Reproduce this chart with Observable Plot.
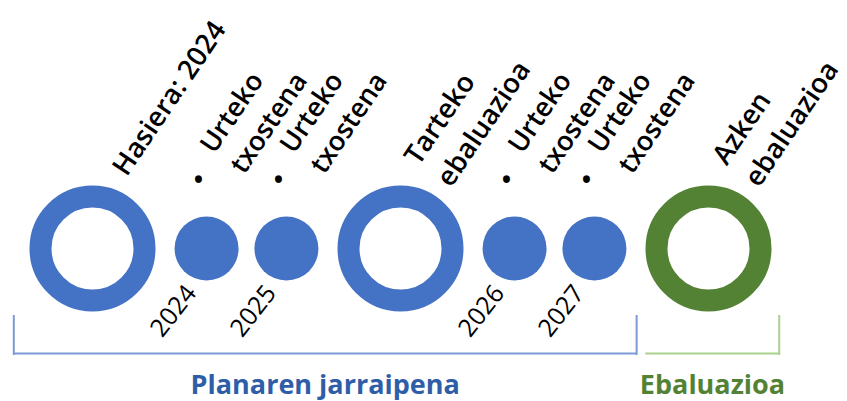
<!DOCTYPE html>
<html>
<head>
<meta charset="utf-8">
<script src="https://cdn.jsdelivr.net/npm/d3@7"></script>
<script src="https://cdn.jsdelivr.net/npm/@observablehq/plot@0.6"></script>
<style>
  html, body { margin: 0; padding: 0; background: #ffffff; }
  svg { display: block; }
</style>
</head>
<body>
<div id="chart"></div>
<script>
// ---- Data ----------------------------------------------------------------
// Timeline milestones, left to right
const milestoneLabels = ["Hasiera: 2024", "Urteko\ntxostena", "Urteko\ntxostena", "Tarteko\nebaluazioa", "Urteko\ntxostena", "Urteko\ntxostena", "Azken\nebaluazioa"];
const milestoneKinds  = ["ring", "dot", "dot", "ring", "dot", "dot", "ring"];
const milestoneSteps  = [0, 1, 1.7, 2.7, 3.7, 4.4, 5.4];
const milestoneYears  = ["", "2024", "2025", "", "2026", "2027", ""];
const milestonePhases = ["Planaren jarraipena", "Planaren jarraipena", "Planaren jarraipena", "Planaren jarraipena", "Planaren jarraipena", "Planaren jarraipena", "Ebaluazioa"];

// Phases (brackets under the timeline), in the same step units
const phaseNames  = ["Planaren jarraipena", "Ebaluazioa"];
const phaseStarts = [-0.69, 4.85];
const phaseEnds   = [4.77, 6.02];

// ---- Styles --------------------------------------------------------------
const circleColor  = {"Planaren jarraipena": "#4472c4", "Ebaluazioa": "#548235"};
const bracketColor = {"Planaren jarraipena": "#7d9ad6", "Ebaluazioa": "#a9d18e"};
const labelColor   = {"Planaren jarraipena": "#2f5ea8", "Ebaluazioa": "#548235"};
const FONT = "Open Sans";

// ---- Tables built from the arrays ----------------------------------------
const milestones = milestoneLabels.map((label, i) => ({
  label, kind: milestoneKinds[i], step: milestoneSteps[i], year: milestoneYears[i], phase: milestonePhases[i]
}));
const rings = milestones.filter(d => d.kind === "ring");
const dots  = milestones.filter(d => d.kind === "dot");
const years = milestones.filter(d => d.year);
const phases = phaseNames.map((name, i) => ({name, start: phaseStarts[i], end: phaseEnds[i]}));
// bracket ends: the first phase is closed on both sides, the others only on the right
const bracketTicks = phases.flatMap((p, i) => (i === 0 ? [{x: p.start, phase: p.name}] : []).concat([{x: p.end, phase: p.name}]));

const ROT = -56;

const chart = Plot.plot({
  width: 847,
  height: 401,
  marginLeft: 92,
  marginRight: 139,
  marginTop: 95,
  marginBottom: 0,
  x: {domain: [0, 5.4], axis: null},
  color: {type: "identity"},
  style: {fontFamily: FONT, background: "#ffffff", overflow: "visible"},
  marks: [
    // brackets
    Plot.ruleY(phases, {x1: "start", x2: "end", y: null, dy: 105, stroke: d => bracketColor[d.name], strokeWidth: 2}),
    Plot.ruleX(bracketTicks, {x: "x", insetTop: 220, insetBottom: 46, stroke: d => bracketColor[d.phase], strokeWidth: 2}),
    // milestones
    Plot.dot(rings, {x: "step", r: 52, fill: "none", stroke: d => circleColor[d.phase], strokeWidth: 22}),
    Plot.dot(dots, {x: "step", r: 32, fill: d => circleColor[d.phase], stroke: null}),
    // labels above
    Plot.text(rings, {x: "step", text: "label", rotate: ROT, textAnchor: "start", lineAnchor: "middle", lineHeight: 1.42,
      dx: 24, dy: -78, fontSize: 27.5, fontWeight: 600, fill: "#000000", fontFamily: FONT}),
    Plot.text(dots, {x: "step", text: () => "\u2022", textAnchor: "middle", lineAnchor: "middle",
      dx: -8, dy: -68, fontSize: 33, fill: "#000000", fontFamily: FONT}),
    Plot.text(dots, {x: "step", text: "label", rotate: ROT, textAnchor: "start", lineAnchor: "middle", lineHeight: 1.35,
      dx: 13, dy: -90, fontSize: 27, fontWeight: 600, fill: "#000000", fontFamily: FONT}),
    // years below the small dots
    Plot.text(years, {x: "step", text: "year", rotate: -52, textAnchor: "end", lineAnchor: "bottom",
      dx: -9, dy: 45, fontSize: 25, fontWeight: 400, fill: "#000000", fontFamily: FONT}),
    // phase names
    Plot.text(phases, {x: d => (d.start + d.end) / 2, text: "name", textAnchor: "middle", lineAnchor: "bottom",
      dy: 145, fontSize: 27, fontWeight: 700, fill: d => labelColor[d.name], fontFamily: FONT})
  ]
});
document.getElementById("chart").appendChild(chart);
</script>
</body>
</html>
